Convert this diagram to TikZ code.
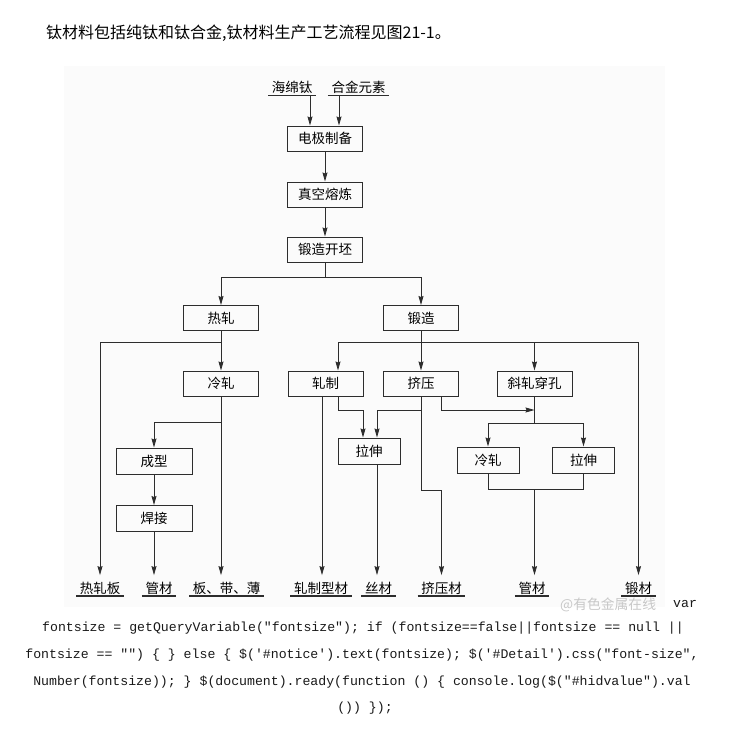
\documentclass[tikz,border=0pt]{standalone}
\usepackage{fontspec}
\newfontfamily\cjk{Noto Sans CJK SC}
\newfontfamily\codefont{Liberation Mono}
\usetikzlibrary{arrows.meta,calc}
\definecolor{figbg}{RGB}{251,251,251}
\definecolor{lnc}{RGB}{45,45,45}
\definecolor{wmk}{RGB}{200,200,200}
\begin{document}
\begin{tikzpicture}[x=1pt,y=-1pt,
  font=\cjk\fontsize{13.5}{16}\selectfont,
  box/.style={draw=lnc, line width=1pt, minimum width=75pt, minimum height=25pt, inner sep=0pt},
  sbox/.style={box, minimum width=62pt, minimum height=26pt},
  prod/.style={inner xsep=3.5pt, inner ysep=0pt, text height=11pt, text depth=2.5pt, anchor=south},
  uline/.style={draw=lnc, line width=1.2pt},
  ln/.style={draw=lnc, line width=0.8pt},
  arr/.style={ln, -{Stealth[length=9pt,width=5pt,inset=1pt]}},
  parr/.style={arr, shorten >=7pt},
  code/.style={font=\codefont\fontsize{13.2}{15}\selectfont, inner sep=0pt, text=black!90}]
\useasboundingbox (0,0) rectangle (730,756);
\fill[figbg] (64,66) rectangle (665,607);

% title
\node[anchor=west, inner sep=0pt, font=\cjk\fontsize{16}{18}\selectfont] (title) at (46,33) {钛材料包括纯钛和钛合金,钛材料生产工艺流程见图21-1。};

% raw materials
\node[prod] (hm) at (292,95.5) {海绵钛};
\node[prod] (hj0) at (358.5,95.5) {合金元素};

% process boxes
\node[box] (dj) at (325,138.5) {电极制备};
\node[box] (zk) at (325,194.5) {真空熔炼};
\node[box] (dp) at (325,249.5) {锻造开坯};
\node[box] (rz) at (221,318) {热轧};
\node[box] (dz) at (421,318) {锻造};
\node[box] (lz) at (221,383.5) {冷轧};
\node[box] (zz) at (325.5,383.5) {轧制};
\node[box] (jy) at (421,383.5) {挤压};
\node[box] (xz) at (534.5,383.5) {斜轧穿孔};
\node[box, minimum width=76pt, minimum height=26pt] (cx) at (154,461) {成型};
\node[box, minimum width=76pt, minimum height=26pt] (hj) at (154,518.5) {焊接};
\node[sbox] (ls) at (369,451) {拉伸};
\node[sbox] (lz2) at (488,460) {冷轧};
\node[sbox] (ls2) at (583.5,460) {拉伸};

% products
\node[prod] (p1) at (100,596) {热轧板};
\node[prod] (p2) at (159,596) {管材};
\node[prod] (p3) at (226.5,596) {板、带、薄};
\node[prod] (p4) at (321,596) {轧制型材};
\node[prod] (p5) at (378.5,596) {丝材};
\node[prod] (p6) at (441.5,596) {挤压材};
\node[prod] (p7) at (532,596) {管材};
\node[prod] (p8) at (638.5,596) {锻材};

\foreach \n in {hm,hj0,p1,p2,p3,p4,p5,p6,p7,p8}
  \draw[uline] (\n.south west) -- (\n.south east);

% guide coordinates
\coordinate (xa) at (310,0);
\coordinate (xb) at (339,0);
\coordinate (xd) at (338,0);
\coordinate (xp) at (322,0);
\coordinate (m1) at (363,410);
\coordinate (m2) at (377,410);
\coordinate (m3) at (421,490);

% top
\draw[arr] (hm.south -| xa) -- (dj.north -| xa);
\draw[arr] (hj0.south -| xb) -- (dj.north -| xb);
\draw[arr] (dj) -- (zk);
\draw[arr] (zk) -- (dp);
\coordinate (br1) at ($(dp.south)+(0,15)$);
\draw[arr] (dp.south) -- (br1) -| (rz.north);
\draw[arr] (br1) -| (dz.north);

% hot rolling branch
\draw[arr] (rz) -- (lz);
\coordinate (j1) at ($(rz.south)+(0,11)$);
\draw[parr] (j1) -| (p1.north);
\coordinate (j2) at ($(lz.south)+(0,26)$);
\draw[arr] (lz.south) -- (j2) -| (cx.north);
\draw[parr] (j2) -- (p3.north -| j2);
\draw[arr] (cx) -- (hj);
\draw[parr] (hj.south) -- (p2.north -| hj);

% forging branch
\draw[arr] (dz) -- (jy);
\coordinate (j3) at ($(dz.south)+(0,11)$);
\draw[ln] (j3 -| xd) -- (j3 -| p8);
\draw[arr] (j3 -| xd) -- (zz.north -| xd);
\draw[arr] (j3 -| xz) -- (xz.north);
\draw[parr] (j3 -| p8) -- (p8.north);

% rolling
\draw[parr] (zz.south -| xp) -- (p4.north -| xp);
\draw[arr] (zz.south -| xd) |- (m1) -- (ls.north -| m1);

% extrusion
\draw[arr] (jy.south) |- (m2) -- (ls.north -| m2);
\draw[parr] (jy.south) -- (m3) -| (p6.north);
\draw[arr] (jy.south -| p6) |- (xz.south |- m1);

% drawing
\draw[parr] (ls.south -| m2) -- (p5.north -| m2);

% skew rolling piercing
\coordinate (j5) at ($(xz.south)+(0,27)$);
\draw[ln] (xz.south) -- (j5);
\draw[arr] (j5) -| (lz2.north);
\draw[arr] (j5) -| (ls2.north);
\coordinate (j6) at ($(xz.south)+(0,93)$);
\draw[ln] (lz2.south) |- (j6) -| (ls2.south);
\draw[parr] (j6) -- (p7.north -| j6);

% watermark and page text
\node[anchor=west, inner sep=0pt, text=wmk, font=\cjk\fontsize{13.8}{16}\selectfont] (wm) at (560,604.5) {@有色金属在线};
\node[code, anchor=west] (v) at (673,604) {var};
\node[code] (c1) at (363,628) {fontsize = getQueryVariable("fontsize"); if (fontsize==false||fontsize == null ||};
\node[code] (c2) at (362,655) {fontsize == "") \{ \} else \{ \$('\#notice').text(fontsize); \$('\#Detail').css("font-size",};
\node[code] (c3) at (362,682) {Number(fontsize)); \} \$(document).ready(function () \{ console.log(\$("\#hidvalue").val};
\node[code] (c4) at (365,708) {()) \});};
\end{tikzpicture}
\end{document}
